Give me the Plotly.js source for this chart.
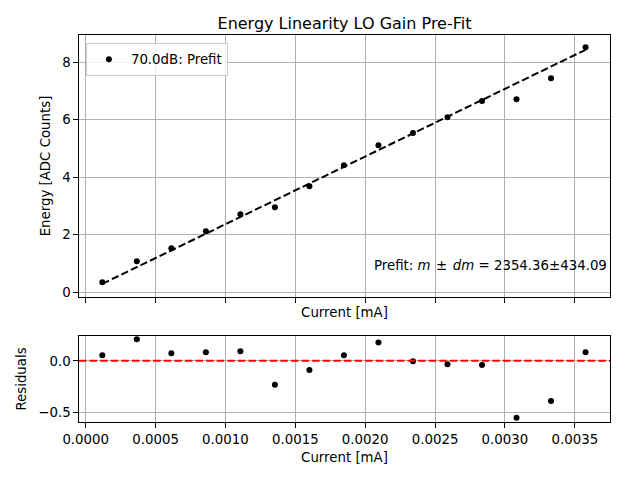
<!DOCTYPE html>
<html>
<head>
<meta charset="utf-8">
<script src="https://cdn.plot.ly/plotly-3.0.1.min.js"></script>
<style>html,body{margin:0;padding:0;background:#fff;}#chart{width:640px;height:480px;}</style>
</head>
<body>
<div id="chart"></div>
<script>
// Data
const currents = [0.000119, 0.000366, 0.000613, 0.000860, 0.001107, 0.001354, 0.001601, 0.001848,
                  0.002095, 0.002342, 0.002589, 0.002836, 0.003083, 0.003330, 0.003577];
const energies = [0.348, 1.078, 1.530, 2.120, 2.713, 2.957, 3.687, 4.417,
                  5.113, 5.540, 6.087, 6.654, 6.713, 7.443, 8.520];
const residuals = [0.055, 0.210, 0.074, 0.084, 0.094, -0.232, -0.090, 0.055,
                   0.180, -0.003, -0.032, -0.040, -0.554, -0.390, 0.084];
const fitSlope = 2354.36;
const fitSlopeErr = 434.09;
const fitIntercept = 0.013;
const seriesName = '70.0dB: Prefit';
const fitLine = currents.map(c => fitSlope * c + fitIntercept);

const font = {family: 'DejaVu Sans, sans-serif', size: 13.33, color: '#000'};
const axisCommon = {
  showline: true, mirror: true, linecolor: '#000', linewidth: 1,
  ticks: 'outside', ticklen: 4.7, tickwidth: 1, tickcolor: '#000',
  showgrid: true, gridcolor: '#b0b0b0', gridwidth: 1, zeroline: false,
  tickfont: font
};

const traces = [
  {x: currents, y: energies, mode: 'markers', type: 'scatter', name: seriesName,
   marker: {color: '#000', size: 6}, xaxis: 'x', yaxis: 'y'},
  {x: currents, y: fitLine, mode: 'lines', type: 'scatter', showlegend: false,
   line: {color: '#000', width: 2, dash: '7.4px,3.2px'}, xaxis: 'x', yaxis: 'y'},
  {x: currents, y: residuals, mode: 'markers', type: 'scatter', showlegend: false,
   marker: {color: '#000', size: 6}, xaxis: 'x2', yaxis: 'y2'}
];

const xr = [-0.0000479, 0.003752];
const layout = {
  width: 640, height: 480,
  margin: {l: 79, r: 30, t: 35, b: 58},
  paper_bgcolor: '#fff', plot_bgcolor: '#fff',
  font: font,
  title: {text: 'Energy Linearity LO Gain Pre-Fit', font: {family: 'DejaVu Sans, sans-serif', size: 16, color: '#000'},
          x: 0.5, xref: 'paper', y: 1 - 23/480, yref: 'container', yanchor: 'middle'},
  showlegend: true,
  legend: {x: 0.013, y: 0.979, xanchor: 'left', yanchor: 'top', bgcolor: 'rgba(255,255,255,0.8)',
           bordercolor: '#cccccc', borderwidth: 1, font: font, tracegroupgap: 0, itemwidth: 34},
  xaxis: Object.assign({}, axisCommon, {domain: [0, 1], anchor: 'y', range: xr, dtick: 0.0005, tick0: 0,
          showticklabels: false, title: {text: 'Current [mA]', font: font, standoff: 5}}),
  yaxis: Object.assign({}, axisCommon, {domain: [0.323, 1], anchor: 'x', range: [-0.165, 8.95], dtick: 2, tick0: 0,
          title: {text: 'Energy [ADC Counts]', font: font, standoff: 8}}),
  xaxis2: Object.assign({}, axisCommon, {domain: [0, 1], anchor: 'y2', range: xr, dtick: 0.0005, tick0: 0,
          tickformat: '.4f', title: {text: 'Current [mA]', font: font, standoff: 6}}),
  yaxis2: Object.assign({}, axisCommon, {domain: [0, 0.2222], anchor: 'x2', range: [-0.595, 0.242], dtick: 0.5, tick0: 0,
          tickformat: '.1f', title: {text: 'Residuals', font: font, standoff: 8}}),
  shapes: [
    {type: 'line', xref: 'x2 domain', yref: 'y2', x0: 0, x1: 1, y0: 0, y1: 0,
     line: {color: 'red', width: 2, dash: '7.4px,3.2px'}}
  ],
  annotations: [
    {xref: 'x domain', yref: 'y domain', x: 0.999, y: 0.122, xanchor: 'right', yanchor: 'middle',
     showarrow: false, font: font,
     text: 'Prefit: <i>m</i>\u200a ± \u200a<i>dm</i> = ' + fitSlope.toFixed(2) + '±' + fitSlopeErr.toFixed(2)}
  ]
};

Plotly.newPlot('chart', traces, layout, {displayModeBar: false, staticPlot: true});
</script>
</body>
</html>
